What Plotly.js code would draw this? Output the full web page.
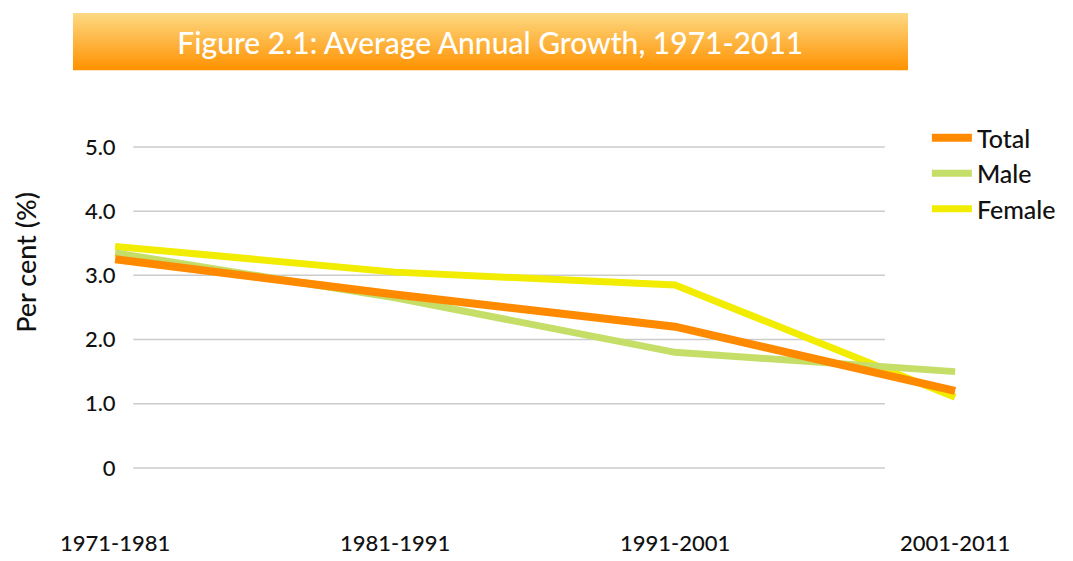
<!DOCTYPE html>
<html>
<head>
<meta charset="utf-8">
<script src="https://cdn.plot.ly/plotly-3.0.1.min.js"></script>
<style>html,body{margin:0;padding:0;background:#fff;}#chart{width:1073px;height:561px;}</style>
</head>
<body>
<div id="chart"></div>
<script>
const periods = ["1971-1981", "1981-1991", "1991-2001", "2001-2011"];
const totalGrowth = [3.25, 2.7, 2.2, 1.2];
const maleGrowth = [3.35, 2.65, 1.8, 1.5];
const femaleGrowth = [3.45, 3.05, 2.85, 1.1];
const yTickVals = [0, 1, 2, 3, 4, 5];
const yTickText = ["0", "1.0", "2.0", "3.0", "4.0", "5.0"];
const chartTitle = "Figure 2.1: Average Annual Growth, 1971-2011";
const yTitle = "Per cent (%)";

const FONT = "Lato, 'Open Sans', sans-serif";

const traces = [
  {x: periods, y: femaleGrowth, name: "Female", type: "scatter", mode: "lines",
   line: {color: "#F2EC00", width: 7}},
  {x: periods, y: maleGrowth, name: "Male", type: "scatter", mode: "lines",
   line: {color: "#C4DE68", width: 7}},
  {x: periods, y: totalGrowth, name: "Total", type: "scatter", mode: "lines",
   line: {color: "#FF8A00", width: 8}}
];

const shapes = [];
// gradient banner behind the title (thin stripes)
const bannerTop = 1.2816, bannerBot = 1.1316, nStripes = 57;
const cTop = [253, 216, 130], cBot = [255, 146, 0];
for (let i = 0; i < nStripes; i++) {
  const t = i / (nStripes - 1);
  const c = cTop.map((v, k) => Math.round(v + (cBot[k] - v) * t));
  const y0 = bannerTop - (bannerTop - bannerBot) * i / nStripes;
  const y1 = bannerTop - (bannerTop - bannerBot) * (i + 1) / nStripes;
  shapes.push({type: "rect", xref: "paper", yref: "paper", x0: -0.0309, x1: 0.9234,
    y0: y1 - 0.001, y1: y0, fillcolor: `rgb(${c[0]},${c[1]},${c[2]})`, line: {width: 0}, layer: "below"});
}
// horizontal gridlines on the back wall
yTickVals.forEach(v => {
  shapes.push({type: "line", xref: "paper", yref: "y", x0: 0.038, x1: 0.897, y0: v, y1: v,
    line: {color: "#CCCCCC", width: 1.5}, layer: "below"});
});

const layout = {
  width: 1073, height: 561,
  margin: {l: 100, r: 98, t: 120, b: 61},
  paper_bgcolor: "#ffffff", plot_bgcolor: "rgba(0,0,0,0)",
  font: {family: FONT, color: "#111111"},
  title: {text: chartTitle, font: {family: FONT, size: 30, color: "#ffffff", weight: 500},
    xref: "paper", x: 0.446, xanchor: "center", yref: "container", y: 0.922, yanchor: "middle"},
  xaxis: {type: "category", range: [-0.054, 3.071], showgrid: false, zeroline: false,
    showline: false, ticks: "", tickfont: {size: 22, family: FONT, color: "#111", weight: 500},
    ticklabelstandoff: 28},
  yaxis: {range: [-0.5, 5.42], showgrid: false, zeroline: false, showline: false,
    anchor: "free", position: 0.032,
    tickvals: yTickVals, ticktext: yTickText, ticks: "outside", ticklen: 8,
    tickcolor: "rgba(0,0,0,0)", tickfont: {size: 22, family: FONT, color: "#111", weight: 500}},
  annotations: [{text: yTitle, xref: "paper", yref: "paper", x: -0.086, y: 0.626,
    xanchor: "center", yanchor: "middle", textangle: -90, showarrow: false,
    font: {size: 27, family: FONT, color: "#111", weight: 500}}],
  legend: {x: 0.945, xanchor: "left", y: 1.013, yanchor: "top", traceorder: "reversed",
    itemwidth: 40, font: {size: 25, family: FONT, color: "#111", weight: 500},
    bgcolor: "rgba(0,0,0,0)"},
  showlegend: true,
  shapes: shapes
};

Plotly.newPlot("chart", traces, layout, {displayModeBar: false, staticPlot: true});
</script>
</body>
</html>
